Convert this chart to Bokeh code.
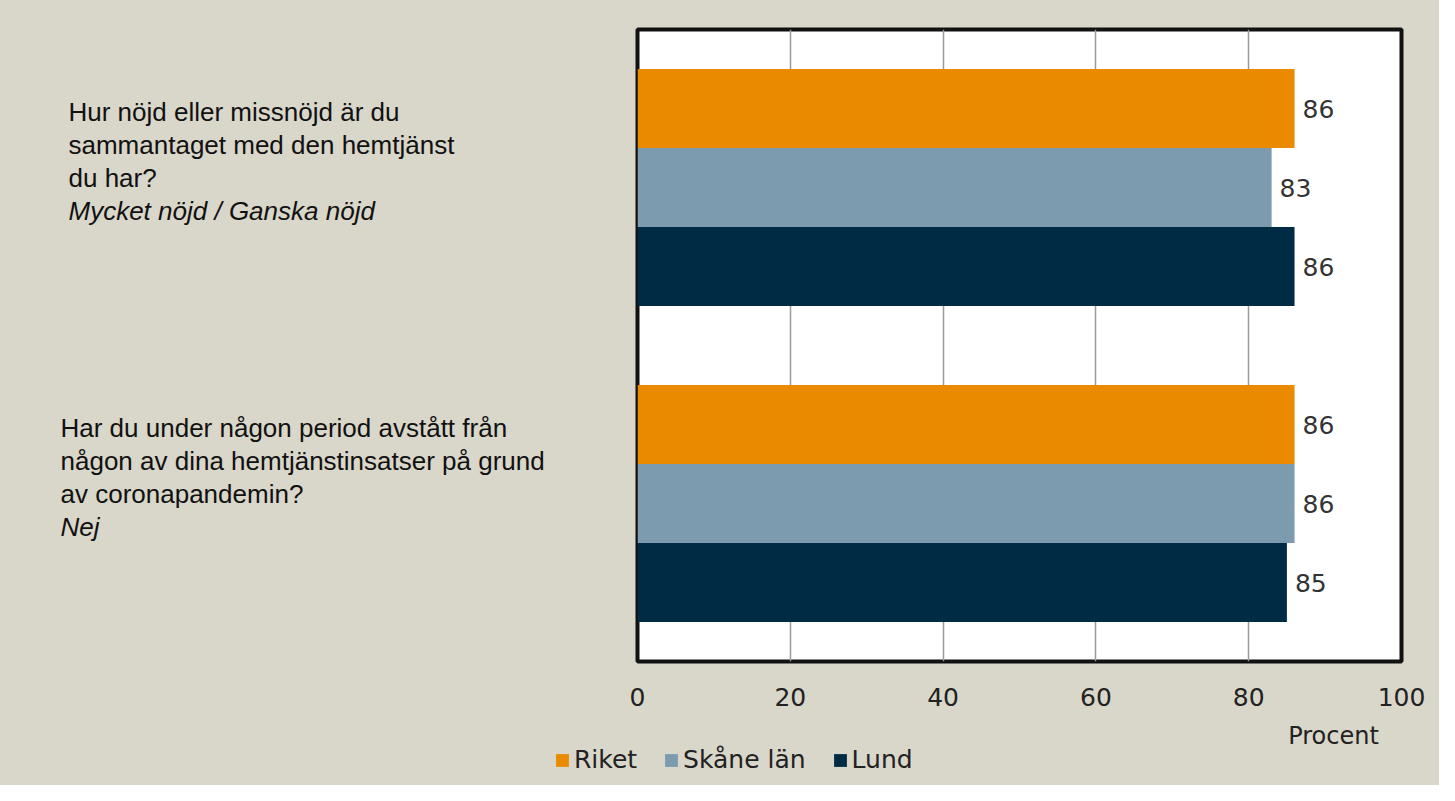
from bokeh.plotting import figure
from bokeh.layouts import row, column
from bokeh.models import Range1d, FixedTicker, Legend, LegendItem, ColumnDataSource
from bokeh.core.properties import value
from bokeh.embed import file_html
from bokeh.resources import INLINE

# ---- data ----
series = ["Riket", "Skåne län", "Lund"]
colors = ["#E98A00", "#7D9BAE", "#002B45"]
question_lines = [
    ["Hur nöjd eller missnöjd är du", "sammantaget med den hemtjänst", "du har?"],
    ["Har du under någon period avstått från", "någon av dina hemtjänstinsatser på grund", "av coronapandemin?"],
]
answers = ["Mycket nöjd / Ganska nöjd", "Nej"]
riket = [86, 86]
skane = [83, 86]
lund = [86, 85]
x_ticks = [0, 20, 40, 60, 80, 100]
axis_title = "Procent"

values = [riket, skane, lund]
BG = "#D9D6CA"
TOP_H = 720
LEFT_W = 605
TOTAL_W = 1439
BORDER_TOP = 29
BORDER_BOTTOM = 59

y_range = Range1d(8, 0)

# ---- main chart ----
p = figure(width=TOTAL_W - LEFT_W, height=TOP_H, output_backend="svg", toolbar_location=None,
           x_range=Range1d(0, 100), y_range=y_range,
           min_border_left=637 - LEFT_W, min_border_right=38,
           min_border_top=BORDER_TOP, min_border_bottom=BORDER_BOTTOM)
p.background_fill_color = "white"
p.border_fill_color = BG
p.outline_line_color = "#111111"
p.outline_line_width = 4
p.yaxis.visible = False
p.ygrid.visible = False
p.xgrid.grid_line_color = "#9a9a9a"
p.xgrid.grid_line_width = 1.5
p.xaxis.ticker = FixedTicker(ticks=x_ticks)
p.xaxis.axis_line_color = None
p.xaxis.major_tick_line_color = None
p.xaxis.minor_tick_line_color = None
p.xaxis.major_tick_out = 0
p.xaxis.major_label_standoff = 26
p.xaxis.major_label_text_font = "DejaVu Sans"
p.xaxis.major_label_text_font_size = "25px"
p.xaxis.major_label_text_color = "#222222"

for j, name in enumerate(series):
    ys = [1 + 4 * i + j for i in range(len(values[j]))]
    src = ColumnDataSource(dict(y=ys, right=values[j], lab=[str(v) for v in values[j]]))
    p.hbar(y="y", left=0, right="right", height=1, source=src,
           fill_color=colors[j], line_color=None)
    p.text(x="right", y="y", text="lab", source=src, x_offset=8,
           text_baseline="middle", text_align="left",
           text_font=value("DejaVu Sans"), text_font_size="25px", text_color="#333333")

# ---- left text panel (shares the vertical scale of the chart) ----
lf = figure(width=LEFT_W, height=TOP_H, output_backend="svg", toolbar_location=None,
            x_axis_type=None, y_axis_type=None,
            x_range=Range1d(0, LEFT_W), y_range=y_range,
            min_border_left=0, min_border_right=0,
            min_border_top=BORDER_TOP, min_border_bottom=BORDER_BOTTOM)
lf.grid.visible = False
lf.outline_line_color = None
lf.background_fill_alpha = 0
lf.border_fill_color = BG
qx = [68, 60]
for i, lines in enumerate(question_lines):
    center = 2 + 4 * i
    n = len(lines)
    lf.text(x=[qx[i]] * n, y=[center - 0.95 + k * 0.415 for k in range(n)], text=lines,
            text_font=value("Liberation Sans"), text_font_size="26px",
            text_color="#111111", text_baseline="middle", text_align="left")
    lf.text(x=[qx[i]], y=[center - 0.95 + n * 0.415], text=[answers[i]],
            text_font=value("Liberation Sans"), text_font_size="26px",
            text_font_style="italic",
            text_color="#111111", text_baseline="middle", text_align="left")

# ---- bottom legend / axis title panel ----
BOT_H = 65
scale = 764 / 100.0
bf = figure(width=TOTAL_W, height=BOT_H, output_backend="svg", toolbar_location=None,
            x_axis_type=None, y_axis_type=None,
            x_range=Range1d(-637 / scale, 100 + 38 / scale), y_range=Range1d(0, BOT_H),
            min_border=0)
bf.grid.visible = False
bf.outline_line_color = None
bf.background_fill_alpha = 0
bf.border_fill_color = BG
bf.text(x=[91.1], y=[BOT_H - 15], text=[axis_title], text_align="center",
        text_baseline="middle", text_font=value("DejaVu Sans"),
        text_font_size="24px", text_color="#222222")
proxies = []
for j, name in enumerate(series):
    proxies.append(bf.hbar(y=[-100], left=[0], right=[1], height=1,
                           fill_color=colors[j], line_color=None))
legend = Legend(items=[LegendItem(label=n, renderers=[r]) for n, r in zip(series, proxies)],
                orientation="horizontal", location=(554, 11),
                glyph_width=16, glyph_height=16, label_standoff=4, spacing=26,
                padding=0, margin=0, border_line_color=None, background_fill_alpha=0,
                label_text_font="DejaVu Sans", label_text_font_size="25px",
                label_text_color="#222222")
bf.add_layout(legend, "center")

layout = column(row(lf, p, styles={"background-color": BG}), bf,
                styles={"background-color": BG})
open("out.html", "w").write(file_html(layout, INLINE))
